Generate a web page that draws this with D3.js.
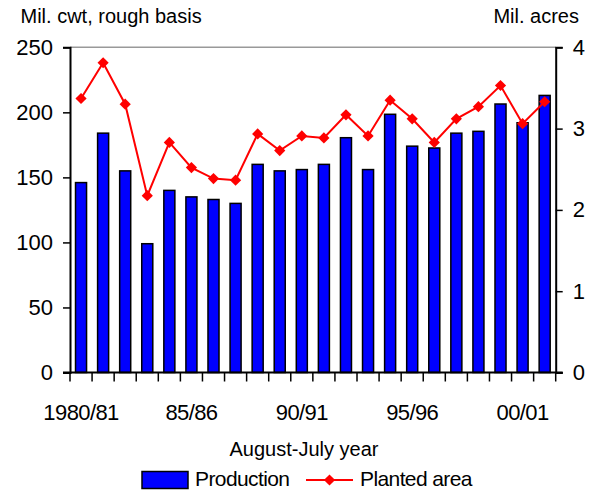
<!DOCTYPE html>
<html><head><meta charset="utf-8">
<script src="https://cdn.jsdelivr.net/npm/d3@7"></script>
<style>body{margin:0;background:#fff}svg{display:block;font-family:"Liberation Sans",Arial,sans-serif}</style>
</head><body><div id="chart"></div>
<script>
const years = ["1980/81","81/82","82/83","83/84","84/85","85/86","86/87","87/88","88/89","89/90","90/91","91/92","92/93","93/94","94/95","95/96","96/97","97/98","98/99","99/00","00/01","01/02"];
const production = [146,184,155,99,140,135,133,130,160,155,156,160,180.5,156,198.5,174,172.6,184,185.4,206.4,192,213];
const plantedArea = [3.37,3.81,3.30,2.175,2.83,2.52,2.385,2.365,2.935,2.73,2.91,2.885,3.17,2.91,3.35,3.12,2.83,3.12,3.27,3.53,3.06,3.33];
const leftTicks = [0,50,100,150,200,250];
const rightTicks = [0,1,2,3,4];
const xLabelYears = ["1980/81","85/86","90/91","95/96","00/01"];

const W=592,H=491;
const X0=70,X1=555.7,Y0=372.5,Y1=47.3;
const svg=d3.select("#chart").append("svg").attr("width",W).attr("height",H);

const x=d3.scaleBand().domain(years).range([X0,X1]).paddingInner(0.5).paddingOuter(0.25);
const xb=d3.scaleBand().domain(years).range([X0,X1]);
const yL=d3.scaleLinear().domain([0,250]).range([Y0,Y1]);
const yR=d3.scaleLinear().domain([0,4]).range([Y0,Y1]);

// top gridline
svg.append("line").attr("x1",X0).attr("x2",X1).attr("y1",yL(250)).attr("y2",yL(250)).attr("stroke","#999").attr("stroke-width",1.5);

// bars
svg.append("g").selectAll("rect").data(years).join("rect")
 .attr("x",d=>x(d)).attr("width",x.bandwidth())
 .attr("y",(d,i)=>yL(production[i])).attr("height",(d,i)=>Y0-yL(production[i]))
 .attr("fill","#0000FF").attr("stroke","#000").attr("stroke-width",1.5);

// left axis
const gL=svg.append("g").attr("transform",`translate(${X0},0)`)
 .call(d3.axisLeft(yL).tickValues(leftTicks).tickSize(7).tickPadding(10).tickFormat(d3.format("d")));
// right axis
const gR=svg.append("g").attr("transform",`translate(${X1},0)`)
 .call(d3.axisRight(yR).tickValues(rightTicks).tickSize(7).tickPadding(10).tickFormat(d3.format("d")));
[gL,gR].forEach(g=>{
 g.select(".domain").attr("stroke","#000").attr("stroke-width",2);
 g.selectAll(".tick line").attr("stroke","#000").attr("stroke-width",1.5);
 g.selectAll("text").attr("font-size",22).attr("fill","#000").attr("font-family","Liberation Sans, Arial, sans-serif");
});

// bottom axis
const gB=svg.append("g").attr("transform",`translate(0,${Y0})`);
gB.append("line").attr("x1",X0-7).attr("x2",X1+7).attr("stroke","#000").attr("stroke-width",2);
const bounds=years.map(d=>xb(d)).concat([X1]);
gB.selectAll("line.t").data(bounds).join("line").attr("class","t")
 .attr("x1",d=>d).attr("x2",d=>d).attr("y1",0).attr("y2",9).attr("stroke","#000").attr("stroke-width",1.5);
gB.selectAll("text").data(xLabelYears).join("text")
 .attr("x",d=>xb(d)+xb.bandwidth()/2).attr("y",47).attr("text-anchor","middle")
 .attr("font-size",22).attr("letter-spacing","-0.6px").text(d=>d);

// line
const line=d3.line().x((d,i)=>xb(years[i])+xb.bandwidth()/2).y(d=>yR(d));
svg.append("path").datum(plantedArea).attr("d",line).attr("fill","none").attr("stroke","#FF0000").attr("stroke-width",2);
const diamond=d3.symbol().type(d3.symbolDiamond2).size(80);
svg.append("g").selectAll("path").data(plantedArea).join("path")
 .attr("transform",(d,i)=>`translate(${xb(years[i])+xb.bandwidth()/2},${yR(d)})`)
 .attr("d",diamond).attr("fill","#FF0000");

// titles
svg.append("text").attr("x",20.5).attr("y",23).attr("font-size",20).text("Mil. cwt, rough basis");
svg.append("text").attr("x",579).attr("y",23).attr("text-anchor","end").attr("font-size",20).text("Mil. acres");
svg.append("text").attr("x",304).attr("y",456).attr("text-anchor","middle").attr("font-size",20).text("August-July year");

// legend
const lg=svg.append("g");
lg.append("rect").attr("x",142).attr("y",471.5).attr("width",46).attr("height",17).attr("fill","#0000FF").attr("stroke","#000").attr("stroke-width",1.5);
lg.append("text").attr("x",195).attr("y",486).attr("font-size",21).attr("letter-spacing","-0.6px").text("Production");
lg.append("line").attr("x1",306).attr("x2",353).attr("y1",480).attr("y2",480).attr("stroke","#FF0000").attr("stroke-width",2);
lg.append("path").attr("transform","translate(329.5,480)").attr("d",diamond).attr("fill","#FF0000");
lg.append("text").attr("x",360).attr("y",486).attr("font-size",21).attr("letter-spacing","-0.6px").text("Planted area");
</script></body></html>
